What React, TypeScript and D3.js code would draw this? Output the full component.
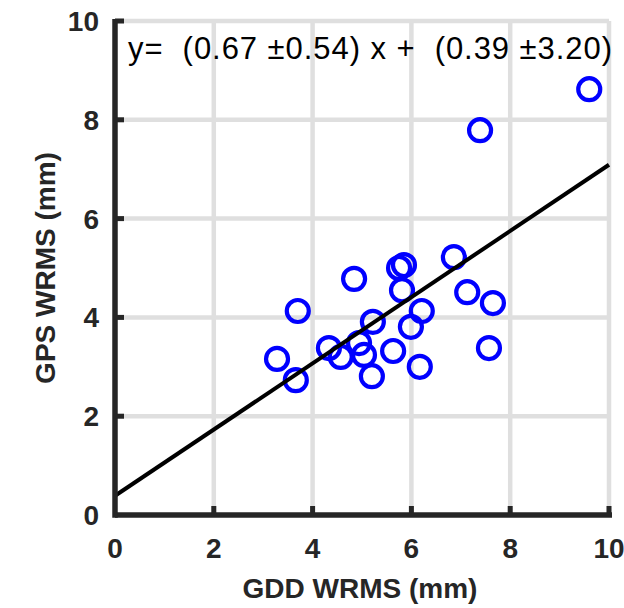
import React from "react";
import * as d3 from "d3";

const gddWrms = [3.28, 3.66, 3.70, 4.33, 4.57, 4.84, 4.94, 5.04, 5.20, 5.22, 5.63, 5.75, 5.85, 5.81, 5.99, 6.17, 6.21, 6.86, 7.13, 7.57, 7.65, 7.39, 9.60];
const gpsWrms = [3.16, 2.73, 4.13, 3.38, 3.20, 4.78, 3.48, 3.24, 2.81, 3.91, 3.32, 5.00, 5.06, 4.55, 3.81, 3.00, 4.13, 5.22, 4.51, 3.38, 4.29, 7.79, 8.62];
const xTicks = [0, 2, 4, 6, 8, 10];
const yTicks = [0, 2, 4, 6, 8, 10];
const slope = 0.67;
const intercept = 0.39;
const equation = "y=  (0.67 \u00B10.54) x +  (0.39 \u00B13.20)";
const xLabel = "GDD WRMS (mm)";
const yLabel = "GPS WRMS (mm)";

export default function App() {
  const W = 624, H = 608;
  const x = d3.scaleLinear().domain([0, 10]).range([115, 609]);
  const y = d3.scaleLinear().domain([0, 10]).range([515, 21]);
  const line = d3.line<number>().x((d) => x(d)).y((d) => y(slope * d + intercept));
  const axisColor = "#262626";
  const gridColor = "#dfdfdf";
  const font = "'Liberation Sans', Arial, Helvetica, sans-serif";
  return (
    <svg width={W} height={H} style={{ position: "absolute", left: 0, top: 0, background: "#fff" }}>
      <rect width={W} height={H} fill="#fff" />
      {xTicks.filter((t) => t > 0).map((t) => (
        <line key={"gx" + t} x1={x(t)} x2={x(t)} y1={y(0)} y2={y(10)} stroke={gridColor} strokeWidth={4.5} />
      ))}
      {yTicks.filter((t) => t > 0).map((t) => (
        <line key={"gy" + t} x1={x(0)} x2={x(10)} y1={y(t)} y2={y(t)} stroke={gridColor} strokeWidth={4.5} />
      ))}
      {gddWrms.map((d, i) => (
        <circle key={"p" + i} cx={x(d)} cy={y(gpsWrms[i])} r={11} fill="none" stroke="#0000ff" strokeWidth={4.2} />
      ))}
      <path d={line([0, 10]) ?? ""} stroke="#000" strokeWidth={4} fill="none" />
      <line x1={x(0)} x2={x(10) + 3} y1={y(0)} y2={y(0)} stroke={axisColor} strokeWidth={5.5} />
      <line x1={x(0)} x2={x(0)} y1={y(0) + 2.75} y2={y(10) - 2} stroke={axisColor} strokeWidth={5.5} />
      {xTicks.filter((t) => t > 0).map((t) => (
        <line key={"tx" + t} x1={x(t)} x2={x(t)} y1={y(0)} y2={y(0) - 9} stroke={axisColor} strokeWidth={5} />
      ))}
      {yTicks.filter((t) => t > 0).map((t) => (
        <line key={"ty" + t} x1={x(0)} x2={x(0) + 9} y1={y(t)} y2={y(t)} stroke={axisColor} strokeWidth={5} />
      ))}
      {xTicks.map((t) => (
        <text key={"lx" + t} x={x(t)} y={558} textAnchor="middle" fontFamily={font} fontWeight="bold" fontSize={28} fill={axisColor}>
          {t}
        </text>
      ))}
      {yTicks.map((t) => (
        <text key={"ly" + t} x={99} y={y(t) + 10} textAnchor="end" fontFamily={font} fontWeight="bold" fontSize={28} fill={axisColor}>
          {t}
        </text>
      ))}
      <text x={360} y={598} textAnchor="middle" fontFamily={font} fontWeight="bold" fontSize={28} fill={axisColor}>
        {xLabel}
      </text>
      <text transform={`translate(55,${268}) rotate(-90)`} textAnchor="middle" fontFamily={font} fontWeight="bold" fontSize={28} fill={axisColor}>
        {yLabel}
      </text>
      <text x={128} y={59} fontFamily={font} fontSize={31} fill="#000" textLength={484} lengthAdjust="spacing" style={{ whiteSpace: "pre" }}>
        {equation}
      </text>
    </svg>
  );
}
